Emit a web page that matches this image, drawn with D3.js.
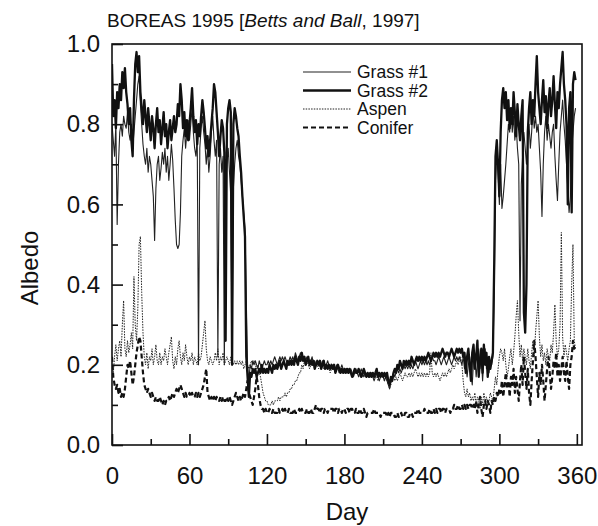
<!DOCTYPE html>
<html><head><meta charset="utf-8">
<script src="https://cdn.jsdelivr.net/npm/d3@7"></script>
<style>body{margin:0;background:#fff}text{font-family:"Liberation Sans",Arial,sans-serif;fill:#111}</style>
</head><body><svg id="c" width="598" height="526"></svg>
<script>
// Daily albedo, day 0..359
const grass1 = [
0.80,0.76,0.72,0.80,0.55,0.70,0.78,0.80,0.77,0.82,
0.80,0.79,0.83,0.78,0.76,0.80,0.74,0.78,0.82,0.86,
0.90,0.92,0.85,0.80,0.75,0.72,0.70,0.74,0.68,0.72,
0.70,0.66,0.62,0.51,0.64,0.70,0.72,0.66,0.69,0.73,
0.70,0.74,0.68,0.72,0.66,0.70,0.75,0.71,0.64,0.56,
0.50,0.49,0.50,0.58,0.72,0.76,0.79,0.74,0.78,0.81,
0.76,0.80,0.84,0.78,0.74,0.72,0.77,0.20,0.74,0.79,
0.82,0.78,0.75,0.70,0.74,0.68,0.72,0.78,0.82,0.76,
0.72,0.76,0.22,0.70,0.74,0.68,0.72,0.20,0.65,0.70,
0.74,0.68,0.62,0.24,0.64,0.70,0.74,0.76,0.72,0.70,
0.66,0.62,0.58,0.54,0.36,0.20,0.16,0.20,0.19,0.21,
0.20,0.21,0.20,0.19,0.21,0.20,0.19,0.20,0.21,0.20,
0.20,0.21,0.20,0.21,0.20,0.21,0.22,0.21,0.20,0.21,
0.22,0.21,0.22,0.21,0.22,0.21,0.20,0.21,0.22,0.21,
0.22,0.21,0.23,0.22,0.21,0.22,0.23,0.22,0.21,0.22,
0.21,0.22,0.21,0.20,0.21,0.22,0.20,0.21,0.20,0.21,
0.20,0.21,0.20,0.21,0.20,0.19,0.20,0.21,0.20,0.19,
0.20,0.19,0.20,0.19,0.20,0.19,0.18,0.19,0.20,0.19,
0.18,0.19,0.18,0.19,0.18,0.19,0.18,0.17,0.18,0.19,
0.18,0.17,0.18,0.19,0.18,0.17,0.18,0.17,0.18,0.17,
0.17,0.18,0.17,0.16,0.17,0.18,0.17,0.16,0.17,0.18,
0.17,0.16,0.17,0.16,0.15,0.14,0.16,0.17,0.18,0.17,
0.18,0.19,0.18,0.19,0.18,0.19,0.20,0.19,0.20,0.19,
0.20,0.19,0.20,0.19,0.20,0.21,0.20,0.19,0.20,0.21,
0.20,0.21,0.20,0.21,0.20,0.21,0.20,0.21,0.22,0.21,
0.21,0.20,0.21,0.22,0.21,0.20,0.21,0.22,0.21,0.20,
0.21,0.22,0.21,0.20,0.21,0.22,0.21,0.22,0.21,0.22,
0.21,0.20,0.22,0.19,0.21,0.17,0.20,0.22,0.18,0.15,
0.21,0.23,0.17,0.20,0.24,0.19,0.22,0.16,0.21,0.24,
0.19,0.22,0.18,0.21,0.20,0.22,0.38,0.66,0.72,0.68,
0.60,0.70,0.59,0.62,0.66,0.70,0.75,0.80,0.78,0.84,
0.78,0.82,0.76,0.80,0.74,0.70,0.31,0.65,0.72,0.78,
0.74,0.70,0.76,0.80,0.74,0.78,0.84,0.79,0.82,0.78,
0.80,0.74,0.68,0.57,0.70,0.78,0.82,0.76,0.80,0.77,
0.74,0.78,0.80,0.72,0.66,0.61,0.70,0.78,0.82,0.86,
0.80,0.76,0.70,0.64,0.58,0.62,0.74,0.78,0.82,0.84];
const grass2 = [
0.95,0.82,0.86,0.79,0.88,0.84,0.90,0.86,0.93,0.89,
0.94,0.88,0.85,0.80,0.84,0.76,0.72,0.86,0.95,0.98,
0.93,0.97,0.88,0.84,0.80,0.86,0.82,0.78,0.84,0.80,
0.76,0.82,0.79,0.74,0.80,0.84,0.78,0.81,0.75,0.79,
0.83,0.77,0.80,0.74,0.78,0.81,0.76,0.79,0.82,0.78,
0.80,0.85,0.82,0.90,0.86,0.79,0.83,0.77,0.81,0.76,
0.80,0.84,0.89,0.82,0.78,0.81,0.75,0.80,0.77,0.82,
0.86,0.83,0.79,0.74,0.77,0.72,0.76,0.80,0.84,0.90,
0.88,0.83,0.78,0.72,0.77,0.81,0.79,0.73,0.26,0.80,
0.84,0.86,0.83,0.20,0.80,0.84,0.82,0.79,0.77,0.72,
0.68,0.62,0.57,0.52,0.22,0.17,0.12,0.18,0.17,0.19,
0.18,0.19,0.17,0.18,0.19,0.18,0.20,0.18,0.19,0.18,
0.19,0.18,0.20,0.19,0.18,0.20,0.19,0.20,0.19,0.20,
0.21,0.19,0.20,0.21,0.20,0.19,0.21,0.20,0.21,0.20,
0.21,0.20,0.22,0.21,0.20,0.22,0.21,0.23,0.21,0.22,
0.20,0.21,0.22,0.20,0.21,0.20,0.21,0.19,0.20,0.21,
0.20,0.21,0.19,0.20,0.21,0.19,0.20,0.19,0.20,0.19,
0.20,0.19,0.20,0.18,0.19,0.20,0.19,0.18,0.19,0.18,
0.19,0.18,0.19,0.18,0.19,0.18,0.17,0.18,0.19,0.18,
0.18,0.19,0.18,0.17,0.18,0.19,0.18,0.17,0.18,0.17,
0.18,0.17,0.18,0.17,0.18,0.19,0.17,0.18,0.17,0.18,
0.17,0.18,0.17,0.18,0.16,0.15,0.17,0.16,0.18,0.19,
0.18,0.20,0.19,0.21,0.20,0.19,0.21,0.20,0.21,0.20,
0.21,0.20,0.22,0.21,0.20,0.21,0.22,0.21,0.22,0.21,
0.22,0.21,0.22,0.21,0.22,0.23,0.22,0.21,0.22,0.23,
0.22,0.23,0.22,0.23,0.22,0.23,0.24,0.23,0.22,0.23,
0.23,0.22,0.23,0.24,0.23,0.22,0.23,0.24,0.23,0.24,
0.23,0.24,0.22,0.23,0.18,0.22,0.24,0.20,0.16,0.23,
0.25,0.19,0.22,0.26,0.17,0.21,0.24,0.18,0.25,0.20,
0.23,0.17,0.22,0.19,0.21,0.23,0.45,0.72,0.76,0.70,
0.62,0.78,0.86,0.89,0.84,0.88,0.81,0.86,0.79,0.84,
0.80,0.88,0.83,0.77,0.85,0.80,0.76,0.82,0.86,0.33,
0.28,0.40,0.78,0.84,0.88,0.80,0.86,0.82,0.90,0.97,
0.88,0.84,0.80,0.86,0.91,0.83,0.87,0.79,0.85,0.89,
0.82,0.86,0.92,0.85,0.79,0.88,0.84,0.90,0.94,0.98,
0.90,0.86,0.80,0.60,0.84,0.88,0.58,0.90,0.93,0.91];
const aspen = [
0.20,0.18,0.22,0.25,0.21,0.24,0.26,0.22,0.30,0.36,
0.24,0.22,0.26,0.23,0.25,0.28,0.24,0.42,0.30,0.26,
0.34,0.50,0.52,0.38,0.28,0.22,0.20,0.23,0.19,0.22,
0.21,0.24,0.20,0.22,0.25,0.21,0.20,0.23,0.20,0.22,
0.21,0.24,0.22,0.20,0.23,0.25,0.27,0.21,0.19,0.22,
0.20,0.24,0.26,0.22,0.20,0.23,0.21,0.25,0.22,0.20,
0.22,0.21,0.23,0.20,0.22,0.21,0.20,0.23,0.21,0.22,
0.25,0.28,0.31,0.24,0.21,0.20,0.22,0.21,0.20,0.21,
0.23,0.21,0.24,0.20,0.22,0.21,0.23,0.20,0.21,0.22,
0.21,0.20,0.22,0.21,0.20,0.21,0.20,0.21,0.20,0.21,
0.20,0.21,0.19,0.20,0.21,0.20,0.19,0.20,0.21,0.20,
0.21,0.20,0.19,0.20,0.18,0.17,0.15,0.13,0.12,0.11,
0.11,0.10,0.10,0.10,0.11,0.10,0.11,0.11,0.11,0.12,
0.11,0.12,0.12,0.12,0.13,0.12,0.13,0.13,0.14,0.14,
0.15,0.15,0.16,0.16,0.17,0.18,0.18,0.20,0.19,0.21,
0.20,0.21,0.20,0.19,0.20,0.21,0.20,0.19,0.20,0.20,
0.19,0.20,0.19,0.20,0.19,0.20,0.19,0.20,0.19,0.18,
0.19,0.20,0.19,0.18,0.19,0.19,0.18,0.19,0.18,0.19,
0.18,0.19,0.18,0.18,0.19,0.18,0.17,0.18,0.19,0.18,
0.18,0.17,0.18,0.18,0.17,0.18,0.17,0.18,0.17,0.18,
0.17,0.18,0.17,0.17,0.18,0.17,0.16,0.17,0.18,0.17,
0.17,0.16,0.17,0.16,0.15,0.14,0.15,0.16,0.17,0.16,
0.17,0.16,0.17,0.18,0.17,0.16,0.17,0.18,0.17,0.17,
0.18,0.17,0.18,0.17,0.18,0.19,0.18,0.17,0.18,0.17,
0.18,0.17,0.18,0.17,0.18,0.17,0.18,0.23,0.18,0.17,
0.18,0.17,0.18,0.17,0.16,0.17,0.18,0.17,0.18,0.17,
0.18,0.19,0.18,0.19,0.20,0.19,0.20,0.21,0.20,0.21,
0.22,0.20,0.16,0.13,0.12,0.14,0.12,0.13,0.11,0.12,
0.11,0.13,0.10,0.12,0.11,0.09,0.12,0.10,0.13,0.11,
0.12,0.10,0.11,0.13,0.12,0.11,0.14,0.17,0.15,0.19,
0.22,0.24,0.23,0.21,0.24,0.20,0.17,0.19,0.22,0.24,
0.20,0.23,0.27,0.32,0.36,0.28,0.22,0.25,0.21,0.24,
0.22,0.20,0.24,0.21,0.19,0.23,0.26,0.22,0.28,0.32,
0.36,0.27,0.22,0.25,0.21,0.23,0.20,0.24,0.22,0.21,
0.25,0.23,0.28,0.35,0.26,0.22,0.24,0.30,0.53,0.27,
0.22,0.25,0.23,0.21,0.24,0.26,0.40,0.50,0.26,0.24];
const conifer = [
0.22,0.17,0.15,0.14,0.15,0.13,0.14,0.12,0.13,0.12,
0.14,0.17,0.20,0.19,0.21,0.18,0.15,0.17,0.20,0.23,
0.25,0.27,0.26,0.22,0.18,0.15,0.14,0.13,0.14,0.13,
0.12,0.13,0.12,0.11,0.12,0.11,0.11,0.12,0.11,0.10,
0.11,0.10,0.11,0.11,0.12,0.11,0.12,0.13,0.12,0.13,
0.14,0.13,0.14,0.15,0.14,0.13,0.12,0.13,0.12,0.12,
0.13,0.12,0.13,0.12,0.12,0.13,0.12,0.13,0.12,0.13,
0.14,0.15,0.17,0.19,0.13,0.12,0.11,0.12,0.11,0.12,
0.11,0.12,0.11,0.11,0.12,0.11,0.12,0.11,0.11,0.12,
0.11,0.12,0.11,0.10,0.11,0.12,0.13,0.12,0.11,0.12,
0.11,0.12,0.13,0.12,0.14,0.16,0.13,0.12,0.11,0.10,
0.12,0.14,0.17,0.15,0.12,0.10,0.09,0.09,0.08,0.09,
0.08,0.08,0.09,0.08,0.08,0.09,0.08,0.08,0.08,0.09,
0.08,0.08,0.09,0.08,0.09,0.08,0.08,0.09,0.08,0.08,
0.08,0.09,0.08,0.08,0.08,0.09,0.08,0.09,0.08,0.08,
0.08,0.09,0.08,0.08,0.09,0.08,0.08,0.09,0.10,0.09,
0.09,0.08,0.09,0.09,0.08,0.09,0.09,0.08,0.09,0.09,
0.09,0.09,0.08,0.09,0.09,0.08,0.09,0.09,0.08,0.09,
0.09,0.08,0.09,0.09,0.08,0.09,0.09,0.08,0.08,0.09,
0.08,0.08,0.09,0.08,0.08,0.09,0.08,0.07,0.08,0.08,
0.08,0.08,0.08,0.09,0.08,0.08,0.08,0.08,0.07,0.08,
0.08,0.08,0.08,0.07,0.08,0.07,0.08,0.08,0.08,0.07,
0.07,0.08,0.07,0.07,0.08,0.07,0.07,0.08,0.08,0.07,
0.07,0.08,0.08,0.07,0.08,0.08,0.08,0.09,0.08,0.08,
0.08,0.08,0.09,0.08,0.08,0.08,0.09,0.08,0.08,0.09,
0.08,0.09,0.08,0.09,0.09,0.08,0.09,0.09,0.08,0.09,
0.09,0.09,0.08,0.09,0.09,0.10,0.09,0.09,0.10,0.09,
0.09,0.10,0.09,0.10,0.09,0.10,0.09,0.10,0.10,0.09,
0.10,0.09,0.11,0.08,0.10,0.12,0.09,0.07,0.10,0.11,
0.09,0.11,0.10,0.08,0.11,0.10,0.12,0.11,0.13,0.12,
0.14,0.13,0.16,0.12,0.15,0.18,0.14,0.16,0.12,0.17,
0.15,0.19,0.13,0.17,0.14,0.11,0.16,0.20,0.15,0.22,
0.18,0.14,0.19,0.13,0.10,0.16,0.21,0.26,0.22,0.17,
0.12,0.18,0.15,0.20,0.16,0.11,0.15,0.19,0.22,0.18,
0.14,0.17,0.21,0.19,0.23,0.17,0.20,0.16,0.19,0.22,
0.18,0.16,0.21,0.17,0.14,0.20,0.22,0.26,0.24,0.25];

const seriesNames = ["Grass #1", "Grass #2", "Aspen", "Conifer"];
const xTicks = [0, 60, 120, 180, 240, 300, 360];
const xMinor = [30, 90, 150, 210, 270, 330];
const yTicks = [0, 0.2, 0.4, 0.6, 0.8, 1.0];
const yMinor = [0.1, 0.3, 0.5, 0.7, 0.9];
const titleMain = "BOREAS 1995 [";
const titleItalic = "Betts and Ball";
const titleEnd = ", 1997]";

const svg = d3.select("#c");
const L = 112, R = 582, T = 44, B = 445;
const x = d3.scaleLinear().domain([0, 364]).range([L, R]);
const y = d3.scaleLinear().domain([0, 1]).range([B, T]);

const styles = {
  "Grass #1": {w: 1.1, dash: null, color: "#222"},
  "Grass #2": {w: 2.3, dash: null, color: "#111"},
  "Aspen": {w: 1.0, dash: "1.5,1.2", color: "#222"},
  "Conifer": {w: 2.2, dash: "5,3", color: "#111"}
};
const dataMap = {"Grass #1": grass1, "Grass #2": grass2, "Aspen": aspen, "Conifer": conifer};

svg.append("clipPath").attr("id", "clip").append("rect")
  .attr("x", L).attr("y", T).attr("width", R - L).attr("height", B - T);

const line = d3.line().x((d, i) => x(i)).y(d => y(d));
const g = svg.append("g").attr("clip-path", "url(#clip)");
["Conifer", "Aspen", "Grass #1", "Grass #2"].forEach(n => {
  const s = styles[n];
  g.append("path").datum(dataMap[n]).attr("d", line)
    .attr("fill", "none").attr("stroke", s.color).attr("stroke-width", s.w)
    .attr("stroke-linejoin", "round")
    .attr("stroke-dasharray", s.dash);
});

// frame
svg.append("rect").attr("x", L).attr("y", T).attr("width", R - L).attr("height", B - T)
  .attr("fill", "none").attr("stroke", "#111").attr("stroke-width", 1.6);

// axes (inward ticks)
const xAxis = d3.axisBottom(x).tickValues(xTicks).tickSize(-11).tickPadding(22).tickFormat(d3.format("d"));
const gx = svg.append("g").attr("transform", `translate(0,${B})`).call(xAxis);
gx.select(".domain").remove();
gx.selectAll("line").attr("stroke", "#111").attr("stroke-width", 1.6);
gx.selectAll("text").attr("font-size", 24).attr("font-family", "Liberation Sans, Arial, sans-serif").attr("fill", "#111");
const gxm = svg.append("g").attr("transform", `translate(0,${B})`).call(d3.axisBottom(x).tickValues(xMinor).tickSize(-6).tickFormat(""));
gxm.select(".domain").remove();
gxm.selectAll("line").attr("stroke", "#111").attr("stroke-width", 1.6);

const yAxis = d3.axisLeft(y).tickValues(yTicks).tickSize(-11).tickPadding(12).tickFormat(d3.format(".1f"));
const gy = svg.append("g").attr("transform", `translate(${L},0)`).call(yAxis);
gy.select(".domain").remove();
gy.selectAll("line").attr("stroke", "#111").attr("stroke-width", 1.6);
gy.selectAll("text").attr("font-size", 24).attr("font-family", "Liberation Sans, Arial, sans-serif").attr("fill", "#111");
const gym = svg.append("g").attr("transform", `translate(${L},0)`).call(d3.axisLeft(y).tickValues(yMinor).tickSize(-6).tickFormat(""));
gym.select(".domain").remove();
gym.selectAll("line").attr("stroke", "#111").attr("stroke-width", 1.6);

// axis titles
svg.append("text").attr("x", (L + R) / 2).attr("y", 520).attr("text-anchor", "middle")
  .attr("font-size", 24).text("Day");
svg.append("text").attr("transform", "translate(38,268) rotate(-90)").attr("text-anchor", "middle")
  .attr("font-size", 24).text("Albedo");

// title
const t = svg.append("text").attr("x", 107).attr("y", 27).attr("font-size", 19);
t.append("tspan").text(titleMain);
t.append("tspan").attr("font-style", "italic").text(titleItalic);
t.append("tspan").text(titleEnd);

// legend
const lg = svg.append("g");
seriesNames.forEach((n, i) => {
  const s = styles[n];
  const yy = 72 + i * 18.5;
  lg.append("line").attr("x1", 303).attr("x2", 351).attr("y1", yy).attr("y2", yy)
    .attr("stroke", s.color).attr("stroke-width", n === "Conifer" ? 1.8 : s.w)
    .attr("stroke-dasharray", s.dash);
  lg.append("text").attr("x", 357).attr("y", yy + 6).attr("font-size", 17.5).text(n);
});
</script></body></html>
